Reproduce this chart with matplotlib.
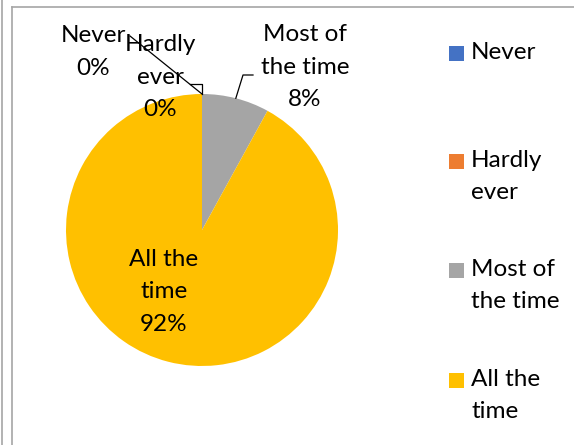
import numpy as np
import matplotlib
matplotlib.use("Agg")
import matplotlib.pyplot as plt
from matplotlib.patches import Rectangle
from matplotlib.lines import Line2D

categories = ["Never", "Hardly ever", "Most of the time", "All the time"]
shares = [0, 0, 8, 92]
pie_labels = ["Never\n0%", "Hardly\never\n0%", "Most of\nthe time\n8%", "All the\ntime\n92%"]
legend_labels = ["Never", "Hardly\never", "Most of\nthe time", "All the\ntime"]
colors = ["#4472C4", "#ED7D31", "#A5A5A5", "#FFC000"]

W, H = 574, 445
plt.rcParams['font.family'] = ['Lato', 'DejaVu Sans']
FS = 17.5
LS = 1.66


def Y(y):
    # pixel rows run downwards, data y runs upwards
    return H - y


fig = plt.figure(figsize=(W / 100, H / 100), dpi=100)
ax = fig.add_axes([0, 0, 1, 1])

cx, cy, r = 202, 230, 136
ax.pie(shares, colors=colors, startangle=90, counterclock=False,
       center=(cx, Y(cy)), radius=r, frame=True,
       wedgeprops=dict(linewidth=0))
ax.set_xlim(0, W)
ax.set_ylim(0, H)
ax.set_aspect('equal')
ax.axis('off')

# mid-angle anchor point on the rim of each slice
total = sum(shares)
cum = np.cumsum([0] + shares[:-1])
mid = np.deg2rad(90 - 360 * (cum + np.array(shares) / 2) / total)
anchors = [(cx + r * np.cos(a), Y(cy) + r * np.sin(a)) for a in mid]

label_pos = [(93, 52), (160, 77), (305, 67), (164, 292)]
for lab, (lx, ly) in zip(pie_labels, label_pos):
    ax.text(lx, Y(ly), lab, ha='center', va='center', fontsize=FS,
            linespacing=LS, color='black')

lc = dict(color='black', lw=0.9)
ax_, ay_ = anchors[0]
ax.plot([130, ax_], [Y(36), ay_], **lc)
ax_, ay_ = anchors[1]
ax.plot([ax_ - 12, ax_, ax_], [Y(84), Y(84), ay_], **lc)
ax_, ay_ = anchors[2]
ax.plot([ax_, 243, 253], [ay_, Y(75), Y(75)], **lc)

# legend on the right
legend_y = [53, 161, 270, 380]
for lab, col, ly in zip(legend_labels, colors, legend_y):
    ax.add_patch(Rectangle((449, Y(ly) - 7.5), 15, 15, facecolor=col, edgecolor='none'))
    ax.text(471, Y(ly) + 11, lab, ha='left', va='top', fontsize=FS,
            linespacing=LS, color='black')

# chart border
fig.add_artist(Line2D([12 / W, 12 / W], [0, 1 - 7 / H], color='#A6A6A6', lw=1.2))
fig.add_artist(Line2D([12 / W, 1], [1 - 7 / H, 1 - 7 / H], color='#A6A6A6', lw=1.2))
fig.add_artist(Line2D([2 / W, 2 / W], [0, 1], color='#A6A6A6', lw=1.2))

fig.savefig("out.png", dpi=100, facecolor='white')
